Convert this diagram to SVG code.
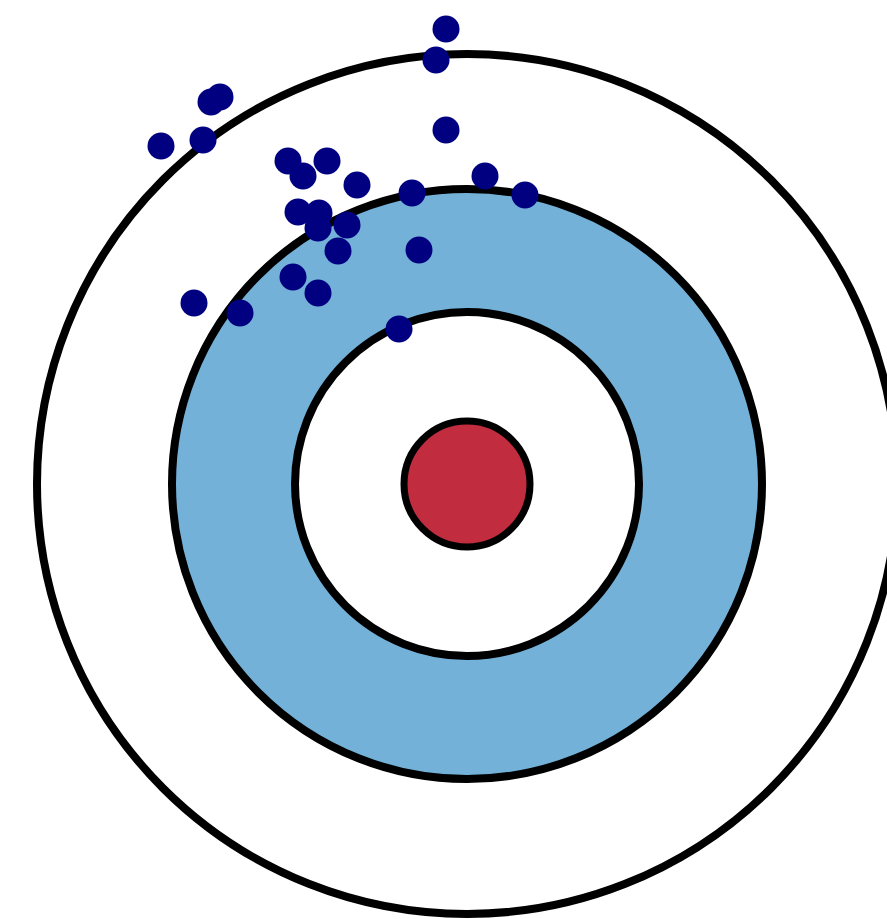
<svg xmlns="http://www.w3.org/2000/svg" width="887" height="919" viewBox="0 0 887 919">
<style>
.ring{stroke:#000;stroke-width:8}
.dot{fill:#000080}
</style>
<rect width="887" height="919" fill="#fff"/>
<g id="target">
<circle class="ring" cx="467" cy="484" r="430" fill="#fff"/>
<circle class="ring" cx="467" cy="484" r="295" fill="#74b1d8"/>
<circle class="ring" cx="467" cy="484" r="172" fill="#fff"/>
<circle class="ring" cx="467" cy="484" r="63" fill="#c12d3e" style="stroke-width:7"/>
</g>
<g id="shots">
<circle class="dot" cx="446" cy="29" r="13.5"/>
<circle class="dot" cx="436" cy="60" r="13.5"/>
<circle class="dot" cx="220" cy="97" r="13.5"/>
<circle class="dot" cx="211" cy="102" r="13.5"/>
<circle class="dot" cx="161" cy="146" r="13.5"/>
<circle class="dot" cx="203" cy="140" r="13.5"/>
<circle class="dot" cx="446" cy="130" r="13.5"/>
<circle class="dot" cx="288" cy="161" r="13.5"/>
<circle class="dot" cx="327" cy="161" r="13.5"/>
<circle class="dot" cx="303" cy="176" r="13.5"/>
<circle class="dot" cx="357" cy="185" r="13.5"/>
<circle class="dot" cx="412" cy="193" r="13.5"/>
<circle class="dot" cx="485" cy="176" r="13.5"/>
<circle class="dot" cx="525" cy="195" r="13.5"/>
<circle class="dot" cx="298" cy="212" r="13.5"/>
<circle class="dot" cx="319" cy="213" r="13.5"/>
<circle class="dot" cx="318" cy="228" r="13.5"/>
<circle class="dot" cx="347" cy="225" r="13.5"/>
<circle class="dot" cx="338" cy="251" r="13.5"/>
<circle class="dot" cx="419" cy="250" r="13.5"/>
<circle class="dot" cx="293" cy="277" r="13.5"/>
<circle class="dot" cx="318" cy="293" r="13.5"/>
<circle class="dot" cx="194" cy="303" r="13.5"/>
<circle class="dot" cx="240" cy="313" r="13.5"/>
<circle class="dot" cx="399" cy="329" r="13.5"/>
</g>
</svg>
